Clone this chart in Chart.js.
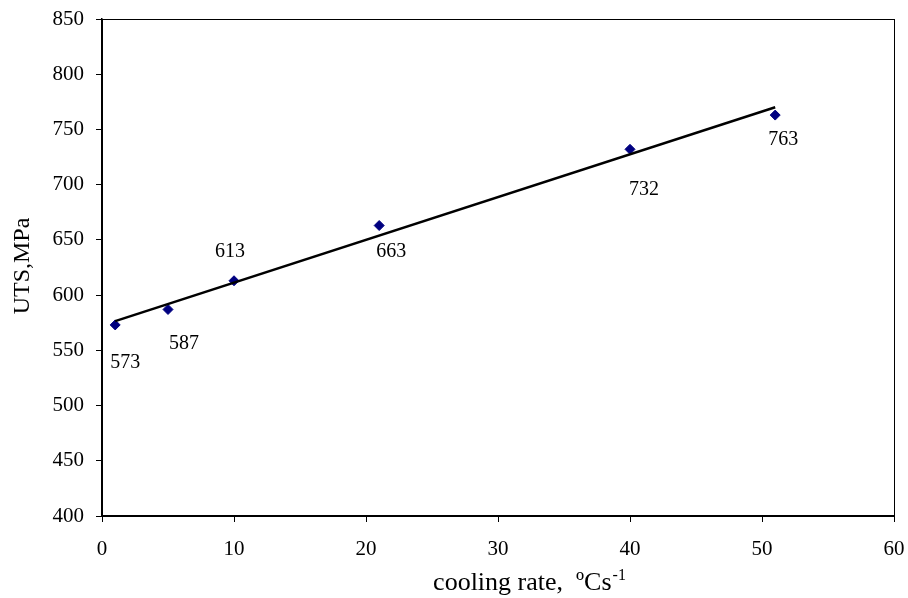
<!DOCTYPE html>
<html>
<head>
<meta charset="utf-8">
<script src="https://cdn.jsdelivr.net/npm/chart.js@4.4.1/dist/chart.umd.min.js"></script>
<style>
  html, body { margin: 0; padding: 0; background: #fff; }
  #wrap { width: 908px; height: 598px; }
</style>
</head>
<body>
<div id="wrap"><canvas id="utsChart" width="908" height="598"></canvas></div>
<script>
// cooling rate (ºC/s) vs UTS (MPa)
const coolingRate = [1, 5, 10, 21, 40, 51];
const utsValues = [573, 587, 613, 663, 732, 763];
// linear trend line end points
const trendX = [1, 51];
const trendY = [576.4, 770.1];
const xTicks = [0, 10, 20, 30, 40, 50, 60];
const yTicks = [400, 450, 500, 550, 600, 650, 700, 750, 800, 850];

const serif = "'Liberation Serif', 'Times New Roman', serif";

// pixel offsets of each value label from its point
const labelShift = [[10, 38], [16, 34], [-4, -29], [12, 26], [14, 40], [8, 25]];

const extrasPlugin = {
    id: 'extras',
    afterDatasetsDraw(chart) {
        const { ctx, chartArea: a } = chart;
        ctx.save();
        // frame round the plot
        ctx.strokeStyle = '#000';
        ctx.lineWidth = 1;
        ctx.strokeRect(Math.round(a.left) + 0.5, Math.round(a.top) + 0.5,
            Math.round(a.right - a.left), Math.round(a.bottom - a.top));

        // value labels
        const meta = chart.getDatasetMeta(1);
        ctx.fillStyle = '#000';
        ctx.font = '20px ' + serif;
        ctx.textAlign = 'center';
        ctx.textBaseline = 'middle';
        meta.data.forEach((pt, i) => {
            const s = labelShift[i];
            ctx.fillText(String(utsValues[i]), pt.x + s[0], pt.y + s[1]);
        });

        // x axis title with superscript
        ctx.font = '26px ' + serif;
        ctx.textAlign = 'left';
        ctx.textBaseline = 'alphabetic';
        const main = 'cooling rate,  ºCs';
        const sup = '-1';
        const w1 = ctx.measureText(main).width;
        ctx.font = '16px ' + serif;
        const w2 = ctx.measureText(sup).width;
        const x0 = 529 - (w1 + w2) / 2;
        ctx.font = '26px ' + serif;
        ctx.fillText(main, x0, 590);
        ctx.font = '16px ' + serif;
        ctx.fillText(sup, x0 + w1 + 1, 580);

        // y axis title
        ctx.font = '24px ' + serif;
        ctx.translate(29, 266);
        ctx.rotate(-Math.PI / 2);
        ctx.textAlign = 'center';
        ctx.fillText('UTS,MPa', 0, 0);
        ctx.restore();
    }
};

new Chart(document.getElementById('utsChart'), {
    type: 'scatter',
    data: {
        datasets: [
            {
                type: 'line',
                data: trendX.map((x, i) => ({ x: x, y: trendY[i] })),
                borderColor: '#000',
                borderWidth: 2.5,
                pointRadius: 0,
                fill: false
            },
            {
                data: coolingRate.map((x, i) => ({ x: x, y: utsValues[i] })),
                backgroundColor: '#000080',
                borderColor: '#000080',
                pointStyle: 'rectRot',
                pointRadius: 5,
                pointHoverRadius: 5
            }
        ]
    },
    options: {
        responsive: false,
        animation: false,
        layout: { padding: { left: 0, top: 19, right: 14, bottom: 0 } },
        plugins: {
            legend: { display: false },
            tooltip: { enabled: false }
        },
        scales: {
            x: {
                type: 'linear',
                min: 0,
                max: 60,
                afterBuildTicks: s => { s.ticks = xTicks.map(v => ({ value: v })); },
                afterFit: s => { s.height = 82; s.paddingLeft = 0; s.paddingRight = 0; },
                grid: { drawOnChartArea: false, drawTicks: true, tickLength: 6, color: '#000' },
                border: { color: '#000', width: 1.5 },
                ticks: { color: '#000', padding: 15, font: { family: serif, size: 21 } }
            },
            y: {
                min: 400,
                max: 850,
                afterBuildTicks: s => { s.ticks = yTicks.map(v => ({ value: v })); },
                afterFit: s => { s.width = 102; s.paddingTop = 0; s.paddingBottom = 0; },
                grid: { drawOnChartArea: false, drawTicks: true, tickLength: 6, color: '#000' },
                border: { color: '#000', width: 1.5 },
                ticks: { color: '#000', padding: 12, font: { family: serif, size: 21 } }
            }
        }
    },
    plugins: [extrasPlugin]
});
</script>
</body>
</html>
